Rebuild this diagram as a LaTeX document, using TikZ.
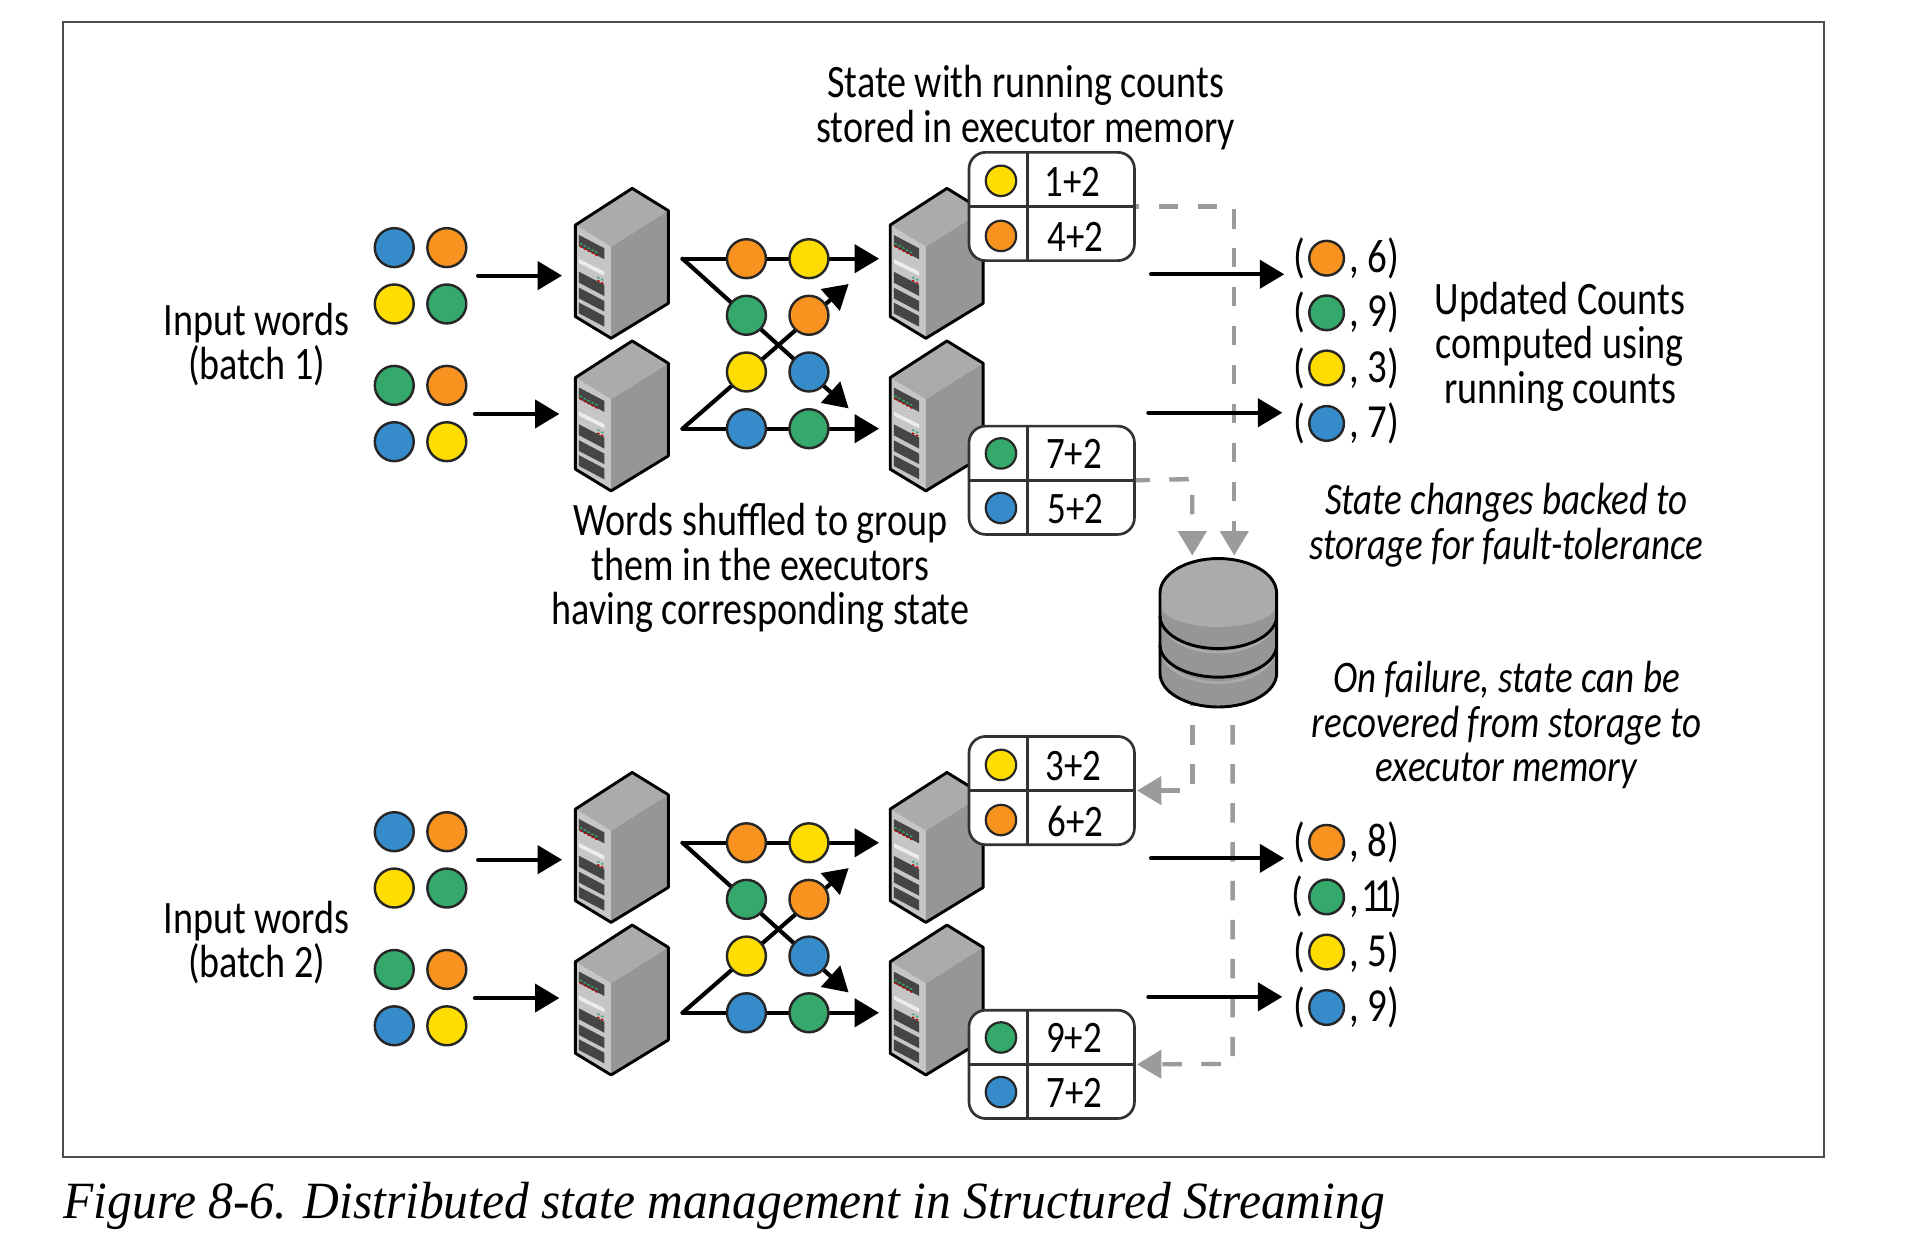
\documentclass[tikz,border=0pt]{standalone}
\usepackage{fontspec}
\usetikzlibrary{arrows.meta,positioning}
\setmainfont{Carlito}[FakeStretch=0.82]
\newfontfamily\capfont{Liberation Serif}[FakeStretch=0.946]
\definecolor{wyellow}{HTML}{FFDD00}
\definecolor{worange}{HTML}{F7931E}
\definecolor{wgreen}{HTML}{34A96B}
\definecolor{wblue}{HTML}{368CCB}
\definecolor{wedge}{HTML}{333333}
\definecolor{dashgray}{HTML}{9B9B9B}
\tikzset{
  word/.style={circle,draw=black!85,line width=2pt,inner sep=0pt,minimum size=32pt},
  tword/.style={word,minimum size=25pt,line width=1.8pt},
  rword/.style={word,minimum size=28.5pt},
  lbl/.style={align=center,inner sep=0pt,font=\fontsize{38.2}{36.5}\selectfont},
  ilbl/.style={lbl,font=\fontsize{37.1}{36.5}\selectfont\itshape},
  tlbl/.style={inner sep=0pt,font=\fontsize{37}{37}\selectfont},
  rlbl/.style={inner sep=0pt,font=\fontsize{39}{39}\selectfont},
  statebox/.style={draw=wedge,fill=white,line width=2.2pt,rounded corners=13.7pt,minimum width=136pt,minimum height=89pt,inner sep=0pt},
  cell/.style={draw=wedge,line width=2.2pt},
  flow/.style={line width=3.4pt,line cap=round,-{Triangle[length=20pt,width=23pt]}},
  stateflow/.style={draw=dashgray,line width=3.6pt,dash pattern=on 16pt off 16pt,-{Triangle[length=20pt,width=23pt,fill=dashgray]}},
  server/.pic={
    \fill[gray!45] (0,30.1) -- (29.3,47.9) -- (29.3,123.2) -- (0,105.4) -- cycle;
    \fill[black!33] (0,30.1) -- (46.6,0) -- (76.3,18.3) -- (29.3,47.9) -- cycle;
    \fill[black!41] (29.3,47.9) -- (76.3,18.3) -- (76.3,94.5) -- (29.3,123.2) -- cycle;
    \fill[black!73] (2.9,38.3) -- (23.8,49.3) -- (23.8,58.3) -- (2.9,47.4) -- cycle;
    \fill[black!7] (2.9,58) -- (23.8,68.5) -- (23.8,71.8) -- (2.9,61.4) -- cycle;
    \fill[black!73] (2.9,68.5) -- (23.8,79.4) -- (23.8,88.5) -- (2.9,77.5) -- cycle;
    \fill[black!73] (2.9,81.6) -- (23.8,92.6) -- (23.8,101.3) -- (2.9,90.4) -- cycle;
    \fill[black!73] (2.9,93.9) -- (23.8,104.9) -- (23.8,113.7) -- (2.9,102.7) -- cycle;
    \draw[wgreen,line width=1.1pt,dash pattern=on 2pt off 1.6pt] (3.6,45.2) -- (18.5,53.2);
    \draw[red!75!black,line width=1.1pt,dash pattern=on 2pt off 1.6pt] (3.6,47.6) -- (18.5,55.6);
    \draw[wgreen,line width=1.1pt,dash pattern=on 2pt off 1.6pt] (18,73) -- (23,75.6);
    \draw[red!75!black,line width=1.1pt,dash pattern=on 2pt off 1.6pt] (18,75.6) -- (23,78.2);
    \draw[black,line width=2.4pt,line join=round] (0,30.1) -- (46.6,0) -- (76.3,18.3) -- (76.3,94.5) -- (29.3,123.2) -- (0,105.4) -- cycle;
  }
}
\begin{document}
\begin{tikzpicture}[x=1pt,y=-1pt]
  \useasboundingbox (0,0) rectangle (1568,1024);
  \fill[white] (0,0) rectangle (1568,1024);
  \draw[black!70,line width=1.4pt] (52,18) rectangle (1499,951);

  \node[lbl] (state) at (843,88.5) {State with running counts\\stored in executor memory};
  \node[lbl] (batchone) at (211,283) {Input words\\(batch 1)};
  \node[lbl] (batchtwo) at (211,774.5) {Input words\\(batch 2)};
  \node[lbl] (updated) at (1282,285) {Updated Counts\\computed using\\running counts};
  \node[lbl] (shuffled) at (625,467) {Words shuffled to group\\them in the executors\\having corresponding state};
  \node[ilbl] (backed) at (1238,431.5) {State changes backed to\\storage for fault-tolerance};
  \node[ilbl] (failure) at (1238,596) {On failure, state can be\\recovered from storage to\\executor memory};
  \node[anchor=base west,inner sep=0pt,font=\capfont\itshape\fontsize{43}{43}\selectfont] (caption) at (52,1001) {Figure 8-6. Distributed state management in Structured Streaming};

  \coordinate (tipa) at (1014.3,456.5);
  \coordinate (tipb) at (979.8,456.5);
  \coordinate (bendb) at (979.8,393.7);
  \coordinate (benda) at (1014.3,169.7);
  \coordinate (stora) at (980.1,564);
  \coordinate (storb) at (1013,564);
  \coordinate (benda2) at (980.1,649.7);
  \coordinate (bendb2) at (1013,874.3);

  \pic (sa1) at (472.9,154.8) {server};
  \pic (sb1) at (472.9,280.2) {server};
  \pic (sc1) at (731.6,154.8) {server};
  \pic (sd1) at (731.6,280.2) {server};
  \pic (sa2) at (472.9,634.8) {server};
  \pic (sb2) at (472.9,760.2) {server};
  \pic (sc2) at (731.6,634.8) {server};
  \pic (sd2) at (731.6,760.2) {server};

  \node[statebox] (ta1) at (864.3,169.7) {};
  \node[statebox] (tb1) at (864.3,394.7) {};
  \node[statebox] (ta2) at (864.3,649.7) {};
  \node[statebox] (tb2) at (864.3,874.7) {};
  \node[word,tword,fill=wyellow] (tay1) at (822.6,148.6) {};
  \node[word,tword,fill=worange] (tao1) at (822.6,193.9) {};
  \node[word,tword,fill=wgreen] (tbg1) at (822.6,372.6) {};
  \node[word,tword,fill=wblue] (tbb1) at (822.6,417.5) {};
  \node[word,tword,fill=wyellow] (tay2) at (822.6,628.6) {};
  \node[word,tword,fill=worange] (tao2) at (822.6,673.9) {};
  \node[word,tword,fill=wgreen] (tbg2) at (822.6,852.6) {};
  \node[word,tword,fill=wblue] (tbb2) at (822.6,897.5) {};
  \draw[cell] (ta1.west) -- (ta1.east);
  \draw[cell] (tb1.west) -- (tb1.east);
  \draw[cell] (ta2.west) -- (ta2.east);
  \draw[cell] (tb2.west) -- (tb2.east);
  \draw[cell] ([xshift=-20pt]ta1.north) -- ([xshift=-20pt]ta1.south);
  \draw[cell] ([xshift=-20pt]tb1.north) -- ([xshift=-20pt]tb1.south);
  \draw[cell] ([xshift=-20pt]ta2.north) -- ([xshift=-20pt]ta2.south);
  \draw[cell] ([xshift=-20pt]tb2.north) -- ([xshift=-20pt]tb2.south);
  \node[tlbl] (cnta) at (881.5,149.5) {1+2};
  \node[tlbl] (cntb) at (884,195) {4+2};
  \node[tlbl] (cntc) at (882.6,373) {7+2};
  \node[tlbl] (cntd) at (883.6,418.5) {5+2};
  \node[tlbl] (cnte) at (882,629.5) {3+2};
  \node[tlbl] (cntf) at (884,675) {6+2};
  \node[tlbl] (cntg) at (882.6,853) {9+2};
  \node[tlbl] (cnth) at (883,898.5) {7+2};

  \draw[stateflow,dash phase=13pt] (ta1.east) -- (benda) -- (tipa);
  \draw[stateflow,dash phase=4.5pt] (tb1.east) -- (bendb) -- (tipb);
  \draw[stateflow] (stora) -- (benda2) -- ([xshift=1pt]ta2.east);
  \draw[stateflow] (storb) -- (bendb2) -- ([xshift=1pt]tb2.east);

  \fill[black!41] (953.3,487.4) arc[start angle=180,end angle=360,x radius=47.9,y radius=28.4] -- (1049.1,553.4) arc[start angle=0,end angle=180,x radius=47.9,y radius=27.6] -- cycle;
  \fill[black!33] (953.3,487.4) arc[start angle=180,end angle=360,x radius=47.9,y radius=28.4] -- (1049.1,496.8) arc[start angle=0,end angle=180,x radius=47.9,y radius=18.5] -- cycle;
  \draw[black!33,line width=2pt] (955,509) arc[start angle=180,end angle=0,x radius=46.2,y radius=27];
  \draw[black!33,line width=2pt] (955,534) arc[start angle=180,end angle=0,x radius=46.2,y radius=27];
  \draw[black,line width=2.4pt] (953.3,506) arc[start angle=180,end angle=0,x radius=47.9,y radius=27];
  \draw[black,line width=2.4pt] (953.3,530) arc[start angle=180,end angle=0,x radius=47.9,y radius=26.5];
  \draw[black,line width=2.4pt] (953.3,487.4) arc[start angle=180,end angle=360,x radius=47.9,y radius=28.4] -- (1049.1,553.4) arc[start angle=0,end angle=180,x radius=47.9,y radius=27.6] -- cycle;

  \node[word,fill=wblue] (ia1) at (324,203.5) {};
  \node[word,fill=worange] (ib1) at (367.2,203.5) {};
  \node[word,fill=wyellow] (ic1) at (324,249.8) {};
  \node[word,fill=wgreen] (id1) at (367.2,249.8) {};
  \node[word,fill=wgreen] (ie1) at (324,316.7) {};
  \node[word,fill=worange] (if1) at (367.2,316.7) {};
  \node[word,fill=wblue] (ig1) at (324,363) {};
  \node[word,fill=wyellow] (ih1) at (367.2,363) {};
  \node[word,fill=wblue] (ia2) at (324,683.5) {};
  \node[word,fill=worange] (ib2) at (367.2,683.5) {};
  \node[word,fill=wyellow] (ic2) at (324,729.8) {};
  \node[word,fill=wgreen] (id2) at (367.2,729.8) {};
  \node[word,fill=wgreen] (ie2) at (324,796.7) {};
  \node[word,fill=worange] (if2) at (367.2,796.7) {};
  \node[word,fill=wblue] (ig2) at (324,843) {};
  \node[word,fill=wyellow] (ih2) at (367.2,843) {};

  \coordinate (ina1) at (392.9,226.5);
  \coordinate (enda1) at (461.9,226.5);
  \coordinate (inb1) at (390.3,340.2);
  \coordinate (endb1) at (459.7,340.2);
  \coordinate (ina2) at (392.9,706.5);
  \coordinate (enda2) at (461.9,706.5);
  \coordinate (inb2) at (390.3,820.2);
  \coordinate (endb2) at (459.7,820.2);
  \draw[flow] (ina1) -- (enda1);
  \draw[flow] (inb1) -- (endb1);
  \draw[flow] (ina2) -- (enda2);
  \draw[flow] (inb2) -- (endb2);

  \coordinate (fka1) at (560.9,212.6);
  \coordinate (fkb1) at (560.9,352.3);
  \coordinate (toa1) at (722.4,212.6);
  \coordinate (tob1) at (722.4,352.3);
  \coordinate (xa1) at (697.4,335.6);
  \coordinate (xb1) at (697.4,233.4);
  \coordinate (fka2) at (560.9,692.6);
  \coordinate (fkb2) at (560.9,832.3);
  \coordinate (toa2) at (722.4,692.6);
  \coordinate (tob2) at (722.4,832.3);
  \coordinate (xa2) at (697.4,815.6);
  \coordinate (xb2) at (697.4,713.4);
  \draw[flow] (fka1) -- (toa1);
  \draw[flow] (fka1) -- (xa1);
  \draw[flow] (fkb1) -- (tob1);
  \draw[flow] (fkb1) -- (xb1);
  \draw[flow] (fka2) -- (toa2);
  \draw[flow] (fka2) -- (xa2);
  \draw[flow] (fkb2) -- (tob2);
  \draw[flow] (fkb2) -- (xb2);

  \node[word,fill=worange] (pa1) at (613.4,212.6) {};
  \node[word,fill=wyellow] (pb1) at (664.8,212.6) {};
  \node[word,fill=wgreen] (pc1) at (613.4,259.1) {};
  \node[word,fill=worange] (pd1) at (664.8,259.1) {};
  \node[word,fill=wyellow] (pe1) at (613.4,305.7) {};
  \node[word,fill=wblue] (pf1) at (664.8,305.7) {};
  \node[word,fill=wblue] (pg1) at (613.4,352.3) {};
  \node[word,fill=wgreen] (ph1) at (664.8,352.3) {};
  \node[word,fill=worange] (pa2) at (613.4,692.6) {};
  \node[word,fill=wyellow] (pb2) at (664.8,692.6) {};
  \node[word,fill=wgreen] (pc2) at (613.4,739.1) {};
  \node[word,fill=worange] (pd2) at (664.8,739.1) {};
  \node[word,fill=wyellow] (pe2) at (613.4,785.7) {};
  \node[word,fill=wblue] (pf2) at (664.8,785.7) {};
  \node[word,fill=wblue] (pg2) at (613.4,832.3) {};
  \node[word,fill=wgreen] (ph2) at (664.8,832.3) {};

  \coordinate (oa1) at (945.9,225.4);
  \coordinate (ra1) at (1055.4,225.4);
  \coordinate (ob1) at (943.7,339.2);
  \coordinate (rb1) at (1053.8,339.2);
  \coordinate (oa2) at (945.9,705.4);
  \coordinate (ra2) at (1055.4,705.4);
  \coordinate (ob2) at (943.7,819.2);
  \coordinate (rb2) at (1053.8,819.2);
  \draw[flow] (oa1) -- (ra1);
  \draw[flow] (ob1) -- (rb1);
  \draw[flow] (oa2) -- (ra2);
  \draw[flow] (ob2) -- (rb2);

  \node[word,rword,fill=worange] (ca1) at (1090.2,212.2) {};
  \node[word,rword,fill=wgreen] (cb1) at (1090.2,257.1) {};
  \node[word,rword,fill=wyellow] (cc1) at (1090.2,302.4) {};
  \node[word,rword,fill=wblue] (cd1) at (1090.2,348) {};
  \node[word,rword,fill=worange] (ca2) at (1090.2,692.2) {};
  \node[word,rword,fill=wgreen] (cb2) at (1090.2,737.1) {};
  \node[word,rword,fill=wyellow] (cc2) at (1090.2,782.4) {};
  \node[word,rword,fill=wblue] (cd2) at (1090.2,828) {};
  \node[rlbl,left=2pt of ca1] (la1) {(};
  \node[rlbl,right=3pt of ca1] (va1) {, 6)};
  \node[rlbl,left=2pt of cb1] (lb1) {(};
  \node[rlbl,right=3pt of cb1] (vb1) {, 9)};
  \node[rlbl,left=2pt of cc1] (lc1) {(};
  \node[rlbl,right=3pt of cc1] (vc1) {, 3)};
  \node[rlbl,left=2pt of cd1] (ld1) {(};
  \node[rlbl,right=3pt of cd1] (vd1) {, 7)};
  \node[rlbl,left=2pt of ca2] (la2) {(};
  \node[rlbl,right=3pt of ca2] (va2) {, 8)};
  \node[rlbl,left=4pt of cb2] (lb2) {(};
  \node[rlbl,right=3pt of cb2] (vb2) {,\kern2pt 1\kern-5pt 1\kern-3pt)};
  \node[rlbl,left=2pt of cc2] (lc2) {(};
  \node[rlbl,right=3pt of cc2] (vc2) {, 5)};
  \node[rlbl,left=2pt of cd2] (ld2) {(};
  \node[rlbl,right=3pt of cd2] (vd2) {, 9)};
\end{tikzpicture}
\end{document}
